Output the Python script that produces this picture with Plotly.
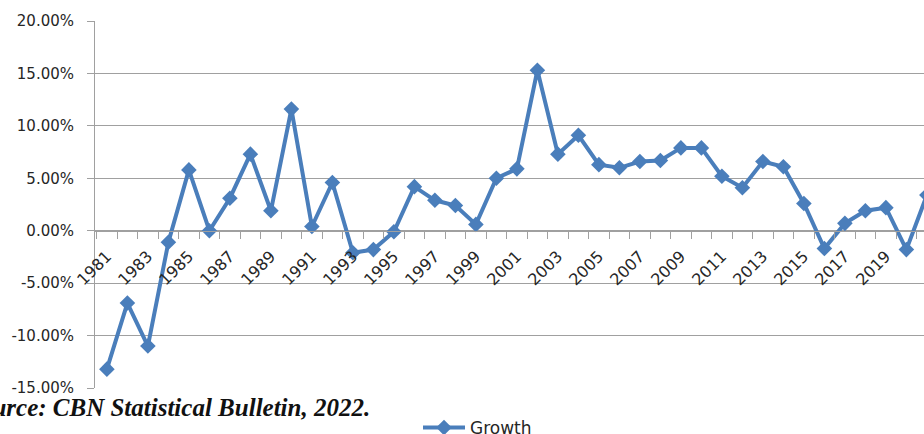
import plotly.graph_objects as go

# Annual real GDP growth rate (%), 1981-2021
years = list(range(1981, 2022))
growth = [
    -13.2, -6.9, -11.0, -1.1, 5.8, 0.0, 3.1, 7.3, 1.9, 11.6,
    0.4, 4.6, -2.1, -1.8, -0.1, 4.2, 2.9, 2.4, 0.6, 5.0,
    5.9, 15.3, 7.3, 9.1, 6.3, 6.0, 6.6, 6.7, 7.9, 7.9,
    5.2, 4.1, 6.6, 6.1, 2.6, -1.7, 0.7, 1.9, 2.2, -1.8,
    3.4,
]
label_years = list(range(1981, 2022, 2))
y_ticks = [-15, -10, -5, 0, 5, 10, 15, 20]

W, H = 924, 434
ML, MR, MT, MB = 95, 0, 21, 46
PW, PH = W - ML - MR, H - MT - MB


def px_x(px):
    return (px - ML) / PW


def px_y(py):
    return (H - MB - py) / PH


BLUE = "#4A7EBB"
GRID = "#A0A0A0"
TXT = "#262626"

fig = go.Figure()
fig.add_trace(go.Scatter(
    x=years, y=growth, name="Growth", mode="lines+markers",
    line=dict(color=BLUE, width=4),
    marker=dict(symbol="diamond", size=12, color=BLUE),
))

fig.update_layout(
    width=W, height=H,
    margin=dict(l=ML, r=MR, t=MT, b=MB, autoexpand=False),
    paper_bgcolor="white", plot_bgcolor="white",
    font=dict(family="DejaVu Sans", size=15, color=TXT),
    showlegend=True,
    legend=dict(
        orientation="h", x=px_x(418), y=px_y(428), xanchor="left", yanchor="middle",
        font=dict(size=17, color=TXT), bgcolor="rgba(0,0,0,0)", itemwidth=42,
    ),
    xaxis=dict(
        range=[1980.42, 1980.42 + PW / 20.5],
        tickvals=label_years, ticktext=[str(y) for y in label_years],
        tickangle=-45, ticks="", showgrid=False, zeroline=False,
        showline=True, linecolor=GRID, linewidth=1,
        anchor="free", position=15 / 35, automargin=False,
        minor=dict(tick0=1980.5, dtick=1, ticks="outside", ticklen=7,
                   tickcolor=GRID, tickwidth=1, showgrid=False),
        tickfont=dict(size=16, color=TXT),
        ticklabelstandoff=9,
    ),
    yaxis=dict(
        range=[-15, 20], tickvals=y_ticks,
        ticktext=[f"{v:.2f}%" for v in y_ticks],
        showgrid=True, gridcolor=GRID, gridwidth=1,
        zeroline=False, showline=True, linecolor=GRID, linewidth=1,
        ticks="outside", ticklen=7, tickcolor=GRID, automargin=False,
        tickfont=dict(size=15, color=TXT),
        ticklabelstandoff=10,
    ),
)

fig.add_annotation(
    text="<b><i>Source: CBN Statistical Bulletin, 2022.</i></b>",
    xref="paper", yref="paper", x=px_x(372), y=px_y(408),
    xanchor="right", yanchor="middle", showarrow=False,
    font=dict(family="Liberation Serif", size=25, color="#111111"),
)

fig.write_html("out.html")
